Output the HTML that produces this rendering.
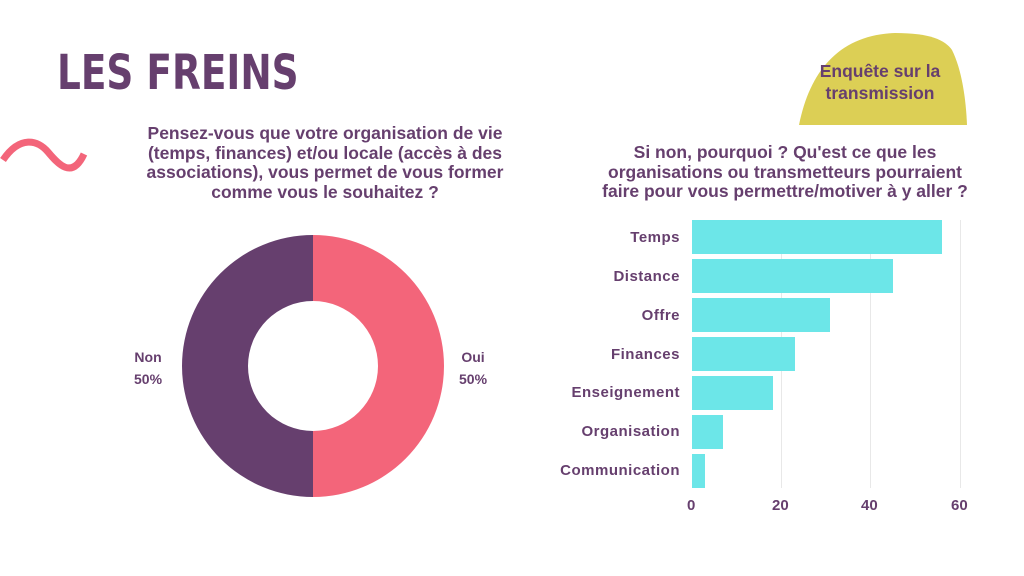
<!DOCTYPE html>
<html><head><meta charset="utf-8"><style>
body{margin:0;width:1024px;height:576px;background:#fff;position:relative;overflow:hidden;font-family:"Liberation Sans",sans-serif;color:#663f6e;font-weight:bold}
.a{position:absolute}
.t{text-align:center;font-size:17.5px;line-height:19.5px;white-space:nowrap}
.lab{position:absolute;right:344px;font-size:15px;letter-spacing:0.5px;text-align:right}
.bar{position:absolute;left:692px;height:34px;background:#6ce6e8}
.g{position:absolute;top:220px;height:268px;width:1px;background:#e8e8e8}
</style></head><body>
<div class="a" style="left:57px;top:45px;font-size:48px;font-family:'DejaVu Sans',sans-serif;font-weight:900;transform:scaleX(0.78);transform-origin:left">LES FREINS</div>
<svg class="a" style="left:0;top:130px" width="100" height="60"><path d="M3 30 C20 5,38 10,48 22 S72 50,84 24" stroke="#f3657a" stroke-width="7" fill="none"/></svg>
<div class="a t" style="left:125px;top:124px;width:400px">Pensez-vous que votre organisation de vie<br>(temps, finances) et/ou locale (accès à des<br>associations), vous permet de vous former<br>comme vous le souhaitez ?</div>
<svg class="a" style="left:0;top:0" width="1024" height="576">
<path d="M313 235 A131 131 0 0 1 313 497 L313 431 A65 65 0 0 0 313 301Z" fill="#f3657a"/>
<path d="M313 235 A131 131 0 0 0 313 497 L313 431 A65 65 0 0 1 313 301Z" fill="#663f6e"/>
<path d="M799 125 C810 70,840 35,895 33 C930 33,945 40,952 50 C962 70,966 100,967 125Z" fill="#dccf55"/>
</svg>
<div class="a" style="left:134px;top:346px;font-size:14px;line-height:22px;text-align:center">Non<br>50%</div>
<div class="a" style="left:459px;top:346px;font-size:14px;line-height:22px;text-align:center">Oui<br>50%</div>
<div class="a t" style="left:790px;top:60px;width:180px;font-size:17.5px;line-height:22px">Enquête sur la<br>transmission</div>
<div class="a t" style="left:580px;top:143px;width:410px">Si non, pourquoi ? Qu'est ce que les<br>organisations ou transmetteurs pourraient<br>faire pour vous permettre/motiver à y aller ?</div>
<div class="g" style="left:781px"></div><div class="g" style="left:870px"></div><div class="g" style="left:960px"></div>
<div class="bar" style="top:220px;width:250px"></div>
<div class="bar" style="top:259px;width:201px"></div>
<div class="bar" style="top:298px;width:138px"></div>
<div class="bar" style="top:337px;width:103px"></div>
<div class="bar" style="top:376px;width:81px"></div>
<div class="bar" style="top:415px;width:31px"></div>
<div class="bar" style="top:454px;width:13px"></div>
<div class="lab" style="top:229px">Temps</div>
<div class="lab" style="top:268px">Distance</div>
<div class="lab" style="top:307px">Offre</div>
<div class="lab" style="top:346px">Finances</div>
<div class="lab" style="top:384px">Enseignement</div>
<div class="lab" style="top:423px">Organisation</div>
<div class="lab" style="top:462px">Communication</div>
<div class="a" style="left:687px;top:497px;font-size:15px">0</div>
<div class="a" style="left:772px;top:497px;font-size:15px">20</div>
<div class="a" style="left:861px;top:497px;font-size:15px">40</div>
<div class="a" style="left:951px;top:497px;font-size:15px">60</div>
</body></html>
